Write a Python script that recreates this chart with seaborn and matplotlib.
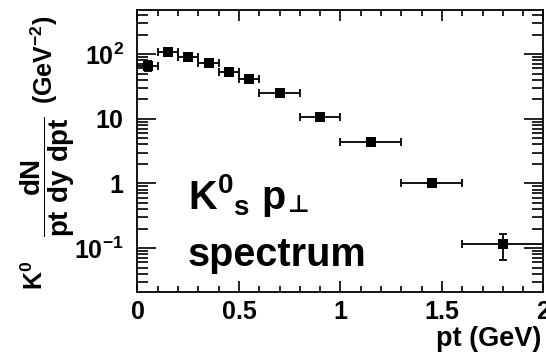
import matplotlib
matplotlib.use("Agg")
import matplotlib.pyplot as plt
import seaborn as sns
import numpy as np
import pandas as pd
from matplotlib.ticker import FixedLocator, FixedFormatter, NullFormatter

# data
pt = [0.05, 0.15, 0.25, 0.35, 0.45, 0.55, 0.7, 0.9, 1.15, 1.45, 1.8]
pt_err = [0.05, 0.05, 0.05, 0.05, 0.05, 0.05, 0.1, 0.1, 0.15, 0.15, 0.2]
yield_ = [66, 109, 89, 72, 53, 41, 25, 10.5, 4.3, 1.0, 0.115]
yield_err = [12, 10, 7, 6, 4, 3, 2, 0.8, 0.35, 0.08, 0.05]
ytick_vals = [0.1, 1, 10, 100]
ytick_labels = [r"$\mathbf{10^{-1}}$", "1", "10", r"$\mathbf{10^{2}}$"]
xtick_vals = [0, 0.5, 1, 1.5, 2]
xtick_labels = ["0", "0.5", "1", "1.5", "2"]

sns.set_theme(style="ticks")
plt.rcParams["font.family"] = ["Liberation Sans", "DejaVu Sans"]
plt.rcParams["font.weight"] = "bold"
plt.rcParams["text.color"] = "black"
plt.rcParams["axes.labelcolor"] = "black"
plt.rcParams["xtick.color"] = "black"
plt.rcParams["ytick.color"] = "black"
plt.rcParams["mathtext.fontset"] = "custom"
plt.rcParams["mathtext.rm"] = "Liberation Sans:bold"
plt.rcParams["mathtext.it"] = "Liberation Sans:bold"
plt.rcParams["mathtext.bf"] = "Liberation Sans:bold"
plt.rcParams["mathtext.sf"] = "Liberation Sans:bold"

fig = plt.figure(figsize=(5.46, 3.62), dpi=100)
ax = fig.add_axes([0.2518, 0.1934, 0.9954 - 0.2518, 0.9724 - 0.1934])

df = pd.DataFrame({"pt": pt, "y": yield_})
ax.errorbar(pt, yield_, xerr=pt_err, yerr=yield_err, fmt="none",
            ecolor="black", elinewidth=1.3, capsize=2.6, capthick=1.3, zorder=2)
sns.scatterplot(data=df, x="pt", y="y", marker="s", s=55, color="black",
                edgecolor="black", linewidth=0, ax=ax, zorder=3)

ax.set_yscale("log")
ax.set_xlim(0, 2)
ax.set_ylim(0.021, 480)

ax.xaxis.set_major_locator(FixedLocator(xtick_vals))
ax.xaxis.set_major_formatter(FixedFormatter(xtick_labels))
ax.xaxis.set_minor_locator(FixedLocator(np.arange(0.1, 2.0, 0.1)))
ax.yaxis.set_major_locator(FixedLocator(ytick_vals))
ax.yaxis.set_major_formatter(FixedFormatter(ytick_labels))
ax.yaxis.set_minor_formatter(NullFormatter())

for s in ax.spines.values():
    s.set_linewidth(1.3)
    s.set_color("black")
ax.tick_params(which="both", direction="in", top=True, right=True,
               color="black", width=1.2)
ax.tick_params(axis="y", which="major", length=14, pad=10, labelsize=18)
ax.tick_params(axis="y", which="minor", length=8)
ax.tick_params(axis="x", which="major", length=8, pad=6, labelsize=18)
ax.tick_params(axis="x", which="minor", length=4)
for lab in ax.get_xticklabels() + ax.get_yticklabels():
    lab.set_fontweight("bold")
ax.set_xlabel("")
ax.set_ylabel("")

fig.text(541 / 546, 0.028, "pt (GeV)", ha="right", va="bottom",
         fontsize=19.5, fontweight="bold")

# y label pieces
fig.text(35 / 546, 1 - 275 / 362, r"K$^{0}$", rotation=90, ha="center",
         va="center", fontsize=18, fontweight="bold")
fig.text(48 / 546, 1 - 177 / 362, r"$\dfrac{dN}{pt\ dy\ dpt}$", rotation=90,
         ha="center", va="center", fontsize=20)
fig.text(44 / 546, 1 - 60 / 362, r"(GeV$^{-2}$)", rotation=90, ha="center",
         va="center", fontsize=18, fontweight="bold")

# annotation
fs = 28.5
t1 = fig.text(188 / 546, 1 - 209 / 362, r"K$^{0}{}_{s}$ p",
              ha="left", va="baseline", fontsize=fs, fontweight="bold")
fig.canvas.draw()
bb = t1.get_window_extent()
fig.text(bb.x1 / 546 + 0.003, 1 - 212 / 362, "\u22a5", ha="left",
         va="baseline", fontsize=17, fontweight="bold",
         family=["DejaVu Sans"])
fig.text(188 / 546, 1 - 266 / 362, "spectrum", ha="left", va="baseline",
         fontsize=fs, fontweight="bold")

fig.savefig("out.png", dpi=100)
